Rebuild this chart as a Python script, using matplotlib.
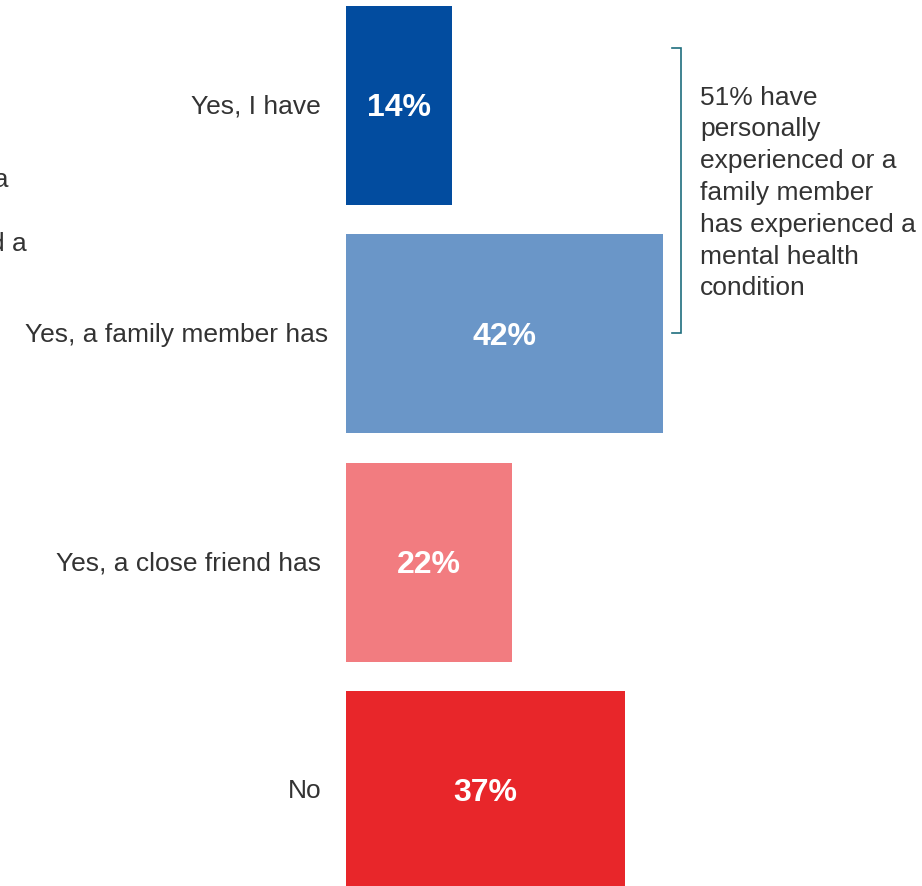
import matplotlib.pyplot as plt

plt.rcParams['font.family'] = ['Liberation Sans', 'DejaVu Sans']

categories = ["Yes, I have", "Yes, a family member has", "Yes, a close friend has", "No"]
values = [14, 42, 22, 37]
colors = ["#024c9f", "#6a96c8", "#f27c80", "#e8262a"]
note = "51% have\npersonally\nexperienced or a\nfamily member\nhas experienced a\nmental health\ncondition"
question_tail = ["Have you, a family member or a", "close friend ever experienced a"]

fig = plt.figure(figsize=(9.22, 8.86), dpi=100)
ax = fig.add_axes([0, 0, 1, 1])

px = 7.55        # pixels per percentage point
pitch = 228.33   # pixels between bar centres
x0, y0 = 346, 105.5


def xd(p):
    return (p - x0) / px


def yd(p):
    return (p - y0) / pitch


pos = list(range(len(values)))
ax.barh(pos, values, height=199 / pitch, color=colors, left=0)

text_col = "#333333"
for i, (cat, v) in enumerate(zip(categories, values)):
    ax.text(v / 2, i + 3 / pitch, f"{v}%", ha="center", va="center", color="white",
            fontsize=23, fontweight="bold")
    right = 328 if i == 1 else 321
    ax.text(xd(right), i + 1 / pitch, cat, ha="right", va="center", color=text_col, fontsize=19)

# bracket grouping the first two bars
bc = "#1f6e7e"
ax.plot([xd(672), xd(681), xd(681), xd(672)], [yd(48), yd(48), yd(333), yd(333)],
        color=bc, lw=1.2, solid_joinstyle="miter")
ax.text(xd(700), yd(193), note, ha="left", va="center", color=text_col,
        fontsize=19, linespacing=1.41)

# question text cut off at the left edge (as in the original)
ax.text(xd(8), yd(180), question_tail[0], ha="right", va="center", color=text_col, fontsize=19)
ax.text(xd(27), yd(244), question_tail[1], ha="right", va="center", color=text_col, fontsize=19)

ax.set_xlim(xd(0), xd(922))
ax.set_ylim(yd(886), yd(0))
ax.axis("off")

fig.savefig("out.png", dpi=100)
